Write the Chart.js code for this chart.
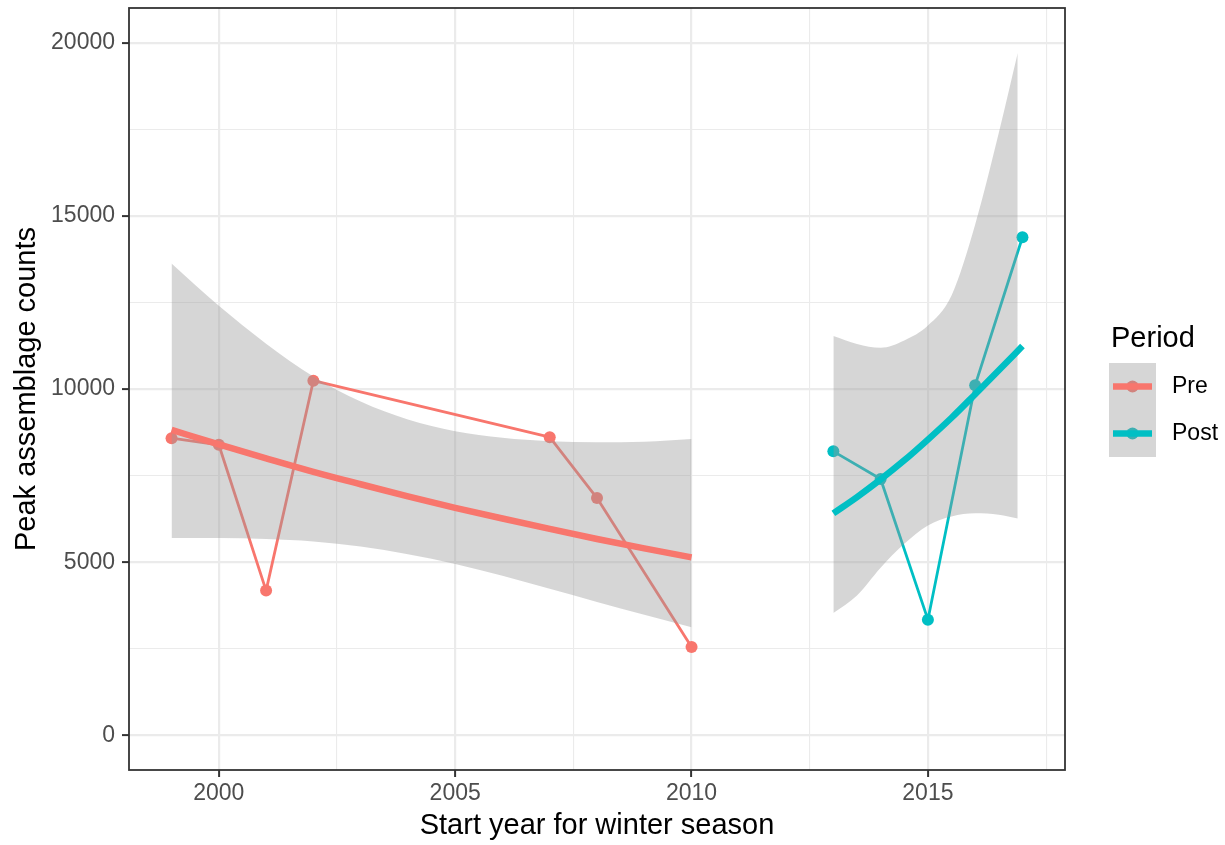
<!DOCTYPE html>
<html>
<head>
<meta charset="utf-8">
<script src="https://cdn.jsdelivr.net/npm/chart.js@4.4.1/dist/chart.umd.min.js"></script>
<style>
  html, body { margin: 0; padding: 0; background: #ffffff; }
  canvas { display: block; }
</style>
</head>
<body>
<canvas id="chart" width="1225" height="845"></canvas>
<script>
// Observed peak counts, by start year of the winter season
const preYears = [1999, 2000, 2001, 2002, 2007, 2008, 2010];
const preCounts = [8580, 8390, 4180, 10240, 8610, 6850, 2550];
const postYears = [2013, 2014, 2015, 2016, 2017];
const postCounts = [8200, 7400, 3340, 10110, 14380];

// Fitted trend and its confidence band, Pre period
const preFitYears = [1999, 2000, 2001, 2002, 2003, 2004, 2005, 2006, 2007, 2008, 2009, 2010];
const preFit = [8820, 8400, 8000, 7610, 7250, 6900, 6570, 6260, 5960, 5670, 5400, 5140];
const preUpper = [13620, 12400, 11310, 10360, 9640, 9120, 8780, 8590, 8490, 8460, 8480, 8560];
const preLower = [5700, 5700, 5670, 5600, 5450, 5230, 4950, 4610, 4230, 3850, 3480, 3120];

// Fitted trend and its confidence band, Post period
const postFitYears = [2013, 2013.5, 2014, 2014.5, 2015, 2015.5, 2016, 2016.5, 2017];
const postFit = [6410, 6880, 7390, 7940, 8540, 9170, 9850, 10540, 11240];
const postBandYears = [2013, 2013.5, 2014, 2014.5, 2015, 2015.5, 2016, 2016.5, 2016.9];
const postUpper = [11530, 11300, 11190, 11400, 11830, 12700, 14750, 17400, 19700];
const postLower = [3530, 4040, 4840, 5530, 6060, 6320, 6410, 6370, 6260];

// Axis ticks (major ticks carry labels, minor ticks only grid lines)
const xTicks = [2000, 2002.5, 2005, 2007.5, 2010, 2012.5, 2015, 2017.5];
const xLabelled = [2000, 2005, 2010, 2015];
const yTicks = [0, 2500, 5000, 7500, 10000, 12500, 15000, 17500, 20000];
const yLabelled = [0, 5000, 10000, 15000, 20000];

const periods = ['Pre', 'Post'];
const periodColors = ['#F8766D', '#00BFC4'];
const bandFill = 'rgba(153,153,153,0.4)';
const FONT = '"Liberation Sans", Arial, Helvetica, sans-serif';

const pts = (xs, ys) => xs.map((x, i) => ({ x, y: ys[i] }));

function observed(label, xs, ys, color) {
  return {
    label, data: pts(xs, ys), order: 2,
    borderColor: color, borderWidth: 2.8, borderJoinStyle: 'round',
    pointRadius: 6, pointBackgroundColor: color, pointBorderWidth: 0,
    tension: 0, fill: false
  };
}
function bandEdge(label, xs, ys, fill) {
  return {
    label, data: pts(xs, ys), order: 1,
    borderColor: 'rgba(0,0,0,0)', borderWidth: 1, pointRadius: 0,
    cubicInterpolationMode: 'monotone',
    fill: fill, backgroundColor: bandFill
  };
}
function trend(label, xs, ys, color) {
  return {
    label, data: pts(xs, ys), order: 0,
    borderColor: color, borderWidth: 6.5, borderCapStyle: 'butt',
    pointRadius: 0, cubicInterpolationMode: 'monotone', fill: false
  };
}

// Panel border and the legend on the right
const decorations = {
  id: 'decorations',
  afterDatasetsDraw(chart) {
    const { ctx, chartArea: a } = chart;
    ctx.save();
    ctx.strokeStyle = '#333333';
    ctx.lineWidth = 1.8;
    ctx.strokeRect(a.left, a.top, a.right - a.left, a.bottom - a.top);
    ctx.restore();
  },
  afterDraw(chart) {
    const { ctx } = chart;
    ctx.save();
    ctx.fillStyle = '#000000';
    ctx.font = '29px ' + FONT;
    ctx.textAlign = 'left';
    ctx.textBaseline = 'alphabetic';
    ctx.fillText('Period', 1111, 347);

    const keyX = 1109, keyW = 47, keyH = 47, keyTop = 363;
    periods.forEach((name, i) => {
      const top = keyTop + i * keyH;
      const cy = top + keyH / 2;
      const color = periodColors[i];
      // observed line + point
      ctx.strokeStyle = color;
      ctx.lineWidth = 2.8;
      ctx.beginPath(); ctx.moveTo(keyX + 4, cy); ctx.lineTo(keyX + keyW - 4, cy); ctx.stroke();
      ctx.fillStyle = color;
      ctx.beginPath(); ctx.arc(keyX + keyW / 2, cy, 6, 0, Math.PI * 2); ctx.fill();
      // band fill
      ctx.fillStyle = bandFill;
      ctx.fillRect(keyX, top, keyW, keyH);
      // trend line
      ctx.strokeStyle = color;
      ctx.lineWidth = 6.5;
      ctx.lineCap = 'butt';
      ctx.beginPath(); ctx.moveTo(keyX + 4, cy); ctx.lineTo(keyX + keyW - 4, cy); ctx.stroke();
      // label
      ctx.fillStyle = '#000000';
      ctx.font = '23px ' + FONT;
      ctx.textBaseline = 'middle';
      ctx.fillText(name, 1172, cy);
    });
    ctx.restore();
  }
};

const tickValue = (c) => (c.tick ? c.tick.value : null);

new Chart(document.getElementById('chart'), {
  type: 'line',
  data: {
    datasets: [
      observed('Pre', preYears, preCounts, periodColors[0]),
      observed('Post', postYears, postCounts, periodColors[1]),
      bandEdge('Pre lower', preFitYears, preLower, false),
      bandEdge('Pre upper', preFitYears, preUpper, '-1'),
      bandEdge('Post lower', postBandYears, postLower, false),
      bandEdge('Post upper', postBandYears, postUpper, '-1'),
      trend('Pre trend', preFitYears, preFit, periodColors[0]),
      trend('Post trend', postFitYears, postFit, periodColors[1])
    ]
  },
  options: {
    responsive: false,
    animation: false,
    devicePixelRatio: 1,
    events: [],
    layout: { padding: { left: 0, right: 160, top: 8, bottom: 0 } },
    plugins: { legend: { display: false }, tooltip: { enabled: false } },
    scales: {
      x: {
        type: 'linear', min: 1998.1, max: 2017.9,
        afterBuildTicks: (s) => { s.ticks = xTicks.map(v => ({ value: v })); },
        afterFit: (s) => { s.height = 75; s.paddingLeft = 0; s.paddingRight = 0; },
        border: { display: false },
        grid: {
          color: '#ebebeb',
          lineWidth: (c) => (xLabelled.includes(tickValue(c)) ? 2.2 : 1.1),
          drawTicks: true, tickLength: 7,
          tickColor: (c) => (xLabelled.includes(tickValue(c)) ? '#333333' : 'rgba(0,0,0,0)'),
          tickWidth: 2
        },
        ticks: {
          autoSkip: false, maxRotation: 0, padding: 3,
          color: '#4d4d4d', font: { family: FONT, size: 23 },
          callback: (v) => (xLabelled.includes(v) ? String(v) : '')
        },
        title: {
          display: true, text: 'Start year for winter season', color: '#000000',
          font: { family: FONT, size: 29 }, padding: { top: 0, bottom: 2 }
        }
      },
      y: {
        type: 'linear', min: -1000, max: 21000,
        afterBuildTicks: (s) => { s.ticks = yTicks.map(v => ({ value: v })); },
        afterFit: (s) => { s.width = 129; s.paddingTop = 0; s.paddingBottom = 0; },
        border: { display: false },
        grid: {
          color: '#ebebeb',
          lineWidth: (c) => (yLabelled.includes(tickValue(c)) ? 2.2 : 1.1),
          drawTicks: true, tickLength: 7,
          tickColor: (c) => (yLabelled.includes(tickValue(c)) ? '#333333' : 'rgba(0,0,0,0)'),
          tickWidth: 2
        },
        ticks: {
          autoSkip: false, padding: 7,
          color: '#4d4d4d', font: { family: FONT, size: 23 },
          callback: (v) => (yLabelled.includes(v) ? String(v) : '')
        },
        title: {
          display: true, text: 'Peak assemblage counts', color: '#000000',
          font: { family: FONT, size: 29 }, padding: { top: 10, bottom: 0 }
        }
      }
    }
  },
  plugins: [decorations]
});
</script>
</body>
</html>
